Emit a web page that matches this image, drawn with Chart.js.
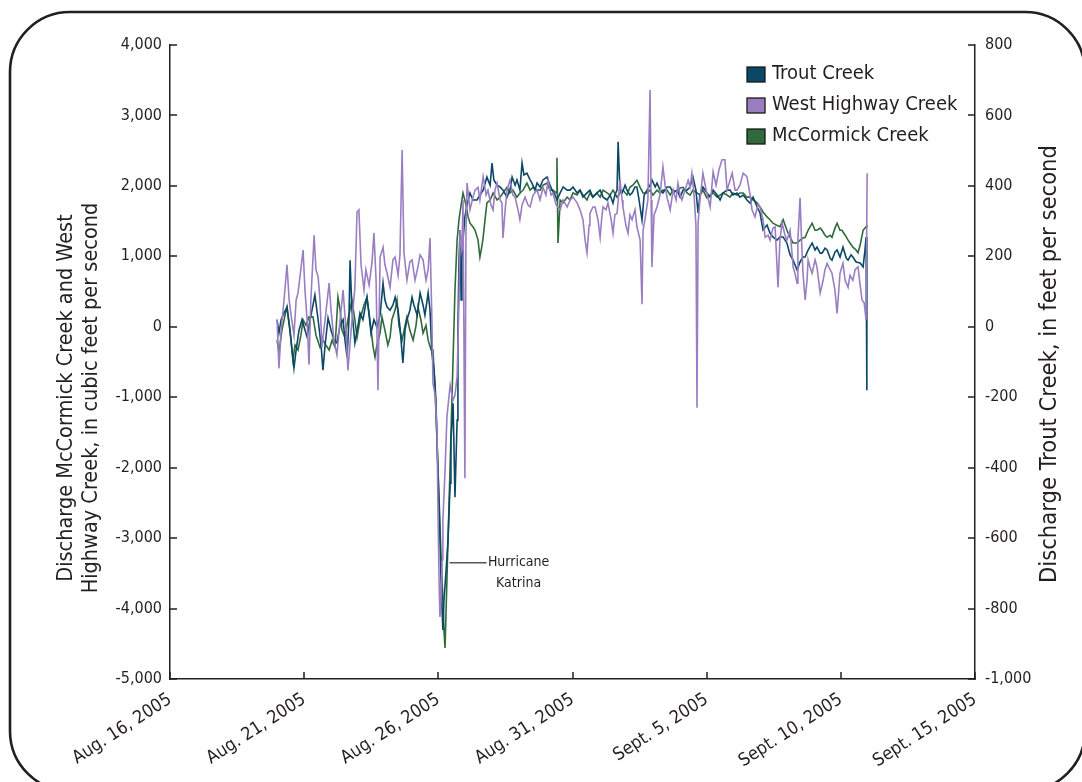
<!DOCTYPE html>
<html>
<head>
<meta charset="utf-8">
<script src="https://cdn.jsdelivr.net/npm/chart.js@4.4.0/dist/chart.umd.min.js"></script>
<style>
  html, body { margin: 0; padding: 0; background: #fff; overflow: hidden; }
  canvas { display: block; }
</style>
</head>
<body>
<canvas id="chart" width="1082" height="782"></canvas>
<script>
// Time is in days after Aug. 16, 2005 00:00.
const dateTickLabels = ['Aug. 16, 2005', 'Aug. 21, 2005', 'Aug. 26, 2005', 'Aug. 31, 2005',
                        'Sept. 5, 2005', 'Sept. 10, 2005', 'Sept. 15, 2005'];
const leftTicks  = [-5000, -4000, -3000, -2000, -1000, 0, 1000, 2000, 3000, 4000];
const rightTicks = [-1000, -800, -600, -400, -200, 0, 200, 400, 600, 800];

// Trout Creek discharge, feet per second (right axis): [day, value]
const troutCreek = [
  [3.99,20],[4.06,-18],[4.14,20],[4.25,39],[4.36,56],[4.47,-9],[4.55,-66],[4.62,-117],[4.70,-66],[4.81,-9],
  [4.92,20],[5.03,-9],[5.11,-29],[5.22,20],[5.33,62],[5.40,90],[5.52,20],[5.63,-52],[5.70,-123],[5.78,-52],
  [5.89,25],[6.00,-9],[6.11,-38],[6.22,-46],[6.34,5],[6.45,20],[6.52,-38],[6.60,-86],[6.67,20],[6.71,189],
  [6.78,47],[6.89,-46],[7.01,5],[7.08,39],[7.19,20],[7.34,84],[7.42,33],[7.49,-18],[7.60,20],[7.71,-1],
  [7.83,33],[7.94,124],[8.01,76],[8.09,56],[8.20,47],[8.31,62],[8.39,84],[8.50,47],[8.57,-1],[8.68,-103],
  [8.76,-9],[8.83,20],[8.94,47],[9.02,84],[9.09,62],[9.21,33],[9.32,96],[9.43,62],[9.50,33],[9.62,96],
  [9.69,47],[9.76,-75],[9.84,-123],[9.91,-208],[9.95,-322],[10.03,-521],[10.10,-719],[10.14,-805],[10.17,-861],[10.21,-776],
  [10.29,-691],[10.36,-606],[10.44,-444],[10.47,-322],[10.55,-217],[10.62,-484],[10.70,-265],[10.73,-9],[10.77,189],[10.81,275],
  [10.85,76],[10.88,189],[10.92,246],[10.99,312],[11.07,346],[11.18,380],[11.29,360],[11.44,360],[11.55,374],[11.67,388],
  [11.81,425],[11.93,402],[12.00,465],[12.07,417],[12.19,402],[12.30,397],[12.41,388],[12.56,368],[12.67,388],[12.75,425],
  [12.86,402],[12.93,417],[13.04,388],[13.12,465],[13.19,431],[13.30,436],[13.42,417],[13.49,408],[13.60,388],[13.68,408],
  [13.79,397],[13.90,417],[14.05,425],[14.16,402],[14.24,388],[14.35,374],[14.42,360],[14.54,380],[14.65,397],[14.80,388],
  [14.91,388],[15.02,397],[15.17,380],[15.28,388],[15.39,368],[15.54,380],[15.65,388],[15.76,368],[15.91,380],[16.03,388],
  [16.14,368],[16.29,360],[16.40,374],[16.51,351],[16.58,374],[16.66,388],[16.70,525],[16.77,388],[16.85,380],[16.96,402],
  [17.03,388],[17.14,374],[17.22,380],[17.33,397],[17.40,397],[17.48,360],[17.59,303],[17.67,374],[17.78,388],[17.89,402],
  [17.96,417],[18.08,397],[18.15,408],[18.26,388],[18.37,380],[18.52,397],[18.64,397],[18.75,380],[18.90,388],[19.01,368],
  [19.12,388],[19.27,388],[19.38,397],[19.49,425],[19.60,388],[19.68,323],[19.75,374],[19.86,397],[20.01,380],[20.13,368],
  [20.24,388],[20.39,374],[20.50,360],[20.61,380],[20.76,388],[20.87,388],[20.98,374],[21.13,380],[21.24,368],[21.36,374],
  [21.50,360],[21.62,351],[21.73,368],[21.88,340],[21.99,323],[22.10,275],[22.25,289],[22.36,266],[22.47,255],[22.62,246],
  [22.73,255],[22.85,255],[22.99,238],[23.11,204],[23.22,189],[23.37,161],[23.48,184],[23.59,198],[23.67,198],[23.78,218],
  [23.93,238],[24.04,218],[24.11,226],[24.23,209],[24.30,209],[24.41,223],[24.49,218],[24.60,195],[24.67,189],[24.78,212],
  [24.86,218],[24.97,198],[25.08,226],[25.20,195],[25.27,189],[25.38,204],[25.45,198],[25.57,184],[25.72,181],[25.83,170],
  [25.90,218],[25.94,255],[25.97,-180]
];

// West Highway Creek discharge, cubic feet per second (left axis): [day, value]
const westHighwayCreek = [
  [3.99,100],[4.06,-590],[4.14,-50],[4.25,380],[4.36,880],[4.44,380],[4.51,170],[4.62,-120],[4.70,380],[4.77,480],
  [4.85,730],[4.96,1090],[5.03,520],[5.11,100],[5.18,-540],[5.25,380],[5.37,1300],[5.44,810],[5.52,710],[5.59,380],
  [5.66,-290],[5.78,100],[5.93,620],[6.00,240],[6.11,-190],[6.22,-400],[6.34,100],[6.45,520],[6.56,-50],[6.63,-620],
  [6.75,-50],[6.89,560],[6.97,1630],[7.04,1660],[7.12,880],[7.23,520],[7.30,810],[7.42,590],[7.53,920],[7.60,1330],
  [7.68,660],[7.75,-900],[7.83,990],[7.94,1130],[8.01,880],[8.09,760],[8.20,560],[8.31,950],[8.39,990],[8.50,730],
  [8.57,1020],[8.65,2510],[8.72,1050],[8.83,660],[8.94,920],[9.02,950],[9.13,660],[9.24,850],[9.32,1020],[9.43,950],
  [9.54,660],[9.62,810],[9.69,1260],[9.76,100],[9.80,-800],[9.88,-970],[9.95,-1470],[9.99,-2700],[10.03,-3640],[10.06,-4120],
  [10.10,-3880],[10.14,-3310],[10.17,-2750],[10.25,-2040],[10.32,-1280],[10.44,-830],[10.55,-1040],[10.62,-970],[10.70,-710],[10.77,380],
  [10.81,1370],[10.88,1090],[10.92,1800],[10.99,-2150],[11.03,1370],[11.07,2040],[11.18,1660],[11.29,1840],[11.37,1940],[11.48,1980],
  [11.55,1800],[11.67,2130],[11.78,1870],[11.85,1940],[11.96,1730],[12.04,1660],[12.11,1940],[12.19,2040],[12.30,1800],[12.37,1760],
  [12.41,1260],[12.49,1660],[12.56,1940],[12.67,2080],[12.78,1870],[12.86,1840],[12.97,1660],[13.04,1520],[13.12,1730],[13.23,1840],
  [13.34,1730],[13.42,1700],[13.53,1870],[13.68,1940],[13.79,1800],[13.90,1980],[14.01,1870],[14.09,2080],[14.20,1870],[14.27,1900],
  [14.39,1730],[14.54,1660],[14.65,1800],[14.80,1700],[14.91,1800],[15.02,1840],[15.17,1760],[15.28,1660],[15.39,1520],[15.47,1230],
  [15.54,1050],[15.62,1440],[15.65,1610],[15.76,1700],[15.84,1700],[15.95,1520],[16.03,1270],[16.10,1590],[16.14,1700],[16.25,1660],
  [16.32,1760],[16.44,1520],[16.51,1330],[16.58,1590],[16.66,1610],[16.77,2080],[16.85,1800],[16.88,1700],[16.99,1440],[17.07,1330],
  [17.14,1590],[17.22,1520],[17.33,1660],[17.40,1420],[17.52,1230],[17.59,320],[17.63,1370],[17.70,1520],[17.81,1800],[17.89,3360],
  [17.93,1800],[17.96,850],[18.04,1590],[18.15,1700],[18.26,1870],[18.37,2270],[18.45,2010],[18.52,1840],[18.64,1660],[18.75,1940],
  [18.86,1800],[18.93,2040],[19.01,1870],[19.08,1800],[19.19,1940],[19.31,2080],[19.38,1980],[19.45,2180],[19.53,1870],[19.60,1440],
  [19.64,-1150],[19.68,1470],[19.75,1800],[19.86,2180],[19.98,1940],[20.13,1700],[20.24,2200],[20.35,2010],[20.46,2230],[20.57,2370],
  [20.68,2370],[20.76,1940],[20.87,2080],[20.95,2180],[21.06,1940],[21.13,1940],[21.24,2010],[21.36,2180],[21.50,2130],[21.62,1870],
  [21.69,1660],[21.80,1560],[21.91,1730],[21.99,1700],[22.10,1520],[22.18,1270],[22.29,1300],[22.36,1230],[22.47,1400],[22.55,1420],
  [22.66,560],[22.73,1230],[22.81,1470],[22.92,1300],[22.99,1230],[23.11,1370],[23.22,850],[23.29,760],[23.37,620],[23.40,1230],
  [23.48,1830],[23.55,1090],[23.59,760],[23.67,380],[23.74,660],[23.78,950],[23.85,850],[23.93,760],[24.04,950],[24.11,850],
  [24.23,480],[24.34,660],[24.41,810],[24.49,900],[24.60,810],[24.67,760],[24.78,520],[24.86,190],[24.97,760],[25.08,900],
  [25.16,660],[25.27,560],[25.34,730],[25.45,660],[25.53,810],[25.64,850],[25.72,590],[25.79,380],[25.87,340],[25.94,100],
  [25.98,2180]
];

// McCormick Creek discharge, cubic feet per second (left axis): [day, value]
const mcCormickCreek = [
  [3.99,-190],[4.06,-370],[4.17,-50],[4.29,170],[4.36,280],[4.47,-50],[4.58,-470],[4.66,-260],[4.77,-330],[4.88,-120],
  [4.96,100],[5.07,20],[5.18,140],[5.33,140],[5.44,-120],[5.59,-290],[5.70,-190],[5.81,-260],[5.93,-330],[6.04,-190],
  [6.15,-290],[6.26,420],[6.34,240],[6.41,-50],[6.52,-150],[6.63,100],[6.78,380],[6.89,100],[6.97,-150],[7.08,100],
  [7.23,310],[7.34,420],[7.45,100],[7.57,-290],[7.64,-430],[7.71,-260],[7.83,-90],[7.90,140],[8.01,-50],[8.12,-260],
  [8.20,-150],[8.27,100],[8.39,240],[8.46,380],[8.53,20],[8.65,-190],[8.76,20],[8.83,140],[8.94,-50],[9.06,-190],
  [9.17,20],[9.24,280],[9.35,100],[9.43,-90],[9.54,20],[9.62,-190],[9.73,-330],[9.80,-330],[9.88,-900],[9.95,-1610],
  [10.03,-2460],[10.10,-3240],[10.17,-3880],[10.21,-4310],[10.25,-4560],[10.62,520],[10.70,1230],[10.77,1520],[10.85,1730],[10.92,1900],
  [11.03,1730],[11.11,1560],[11.18,1470],[11.29,1420],[11.37,1370],[11.48,1230],[11.55,990],[11.63,1160],[11.67,1270],[11.74,1520],
  [11.81,1760],[11.93,1800],[12.04,1900],[12.19,1800],[12.30,1840],[12.41,1900],[12.56,1980],[12.67,1900],[12.78,1940],[12.93,1840],
  [13.04,1900],[13.16,1940],[13.30,2040],[13.42,1940],[13.53,1980],[13.68,1940],[13.79,1940],[13.90,2010],[14.05,2040],[14.16,1940],
  [14.27,1940],[14.39,1900],[14.42,2400],[14.46,1190],[14.54,1800],[14.65,1760],[14.80,1840],[14.91,1800],[15.02,1900],[15.17,1870],
  [15.28,1940],[15.39,1870],[15.54,1800],[15.65,1900],[15.76,1840],[15.91,1900],[16.03,1840],[16.14,1940],[16.29,1900],[16.40,1870],
  [16.51,1940],[16.66,1840],[16.77,1900],[16.88,1940],[17.03,1870],[17.14,1980],[17.25,2010],[17.40,2080],[17.52,1980],[17.63,1900],
  [17.78,1900],[17.89,1940],[18.00,1870],[18.15,1940],[18.26,1900],[18.37,1940],[18.52,1940],[18.64,1870],[18.75,1940],[18.90,1910],
  [19.01,1970],[19.12,1980],[19.27,1900],[19.38,1870],[19.49,1940],[19.64,1900],[19.75,1870],[19.86,1940],[20.01,1830],[20.13,1870],
  [20.24,1900],[20.39,1840],[20.50,1870],[20.61,1900],[20.76,1870],[20.87,1840],[20.98,1900],[21.13,1870],[21.24,1900],[21.36,1900],
  [21.50,1840],[21.62,1840],[21.73,1800],[21.88,1760],[21.99,1700],[22.10,1630],[22.25,1560],[22.36,1520],[22.47,1470],[22.62,1440],
  [22.73,1420],[22.85,1520],[22.99,1370],[23.11,1270],[23.22,1190],[23.37,1190],[23.48,1230],[23.59,1260],[23.67,1270],[23.78,1370],
  [23.93,1470],[24.04,1370],[24.11,1370],[24.23,1400],[24.30,1370],[24.41,1300],[24.49,1270],[24.60,1300],[24.67,1270],[24.78,1400],
  [24.86,1470],[24.97,1370],[25.04,1370],[25.16,1300],[25.27,1230],[25.34,1190],[25.45,1130],[25.57,1090],[25.64,1050],[25.72,1160],
  [25.83,1370],[25.94,1420],[25.97,1440]
];

// Storm note, placed in data units (day, left-axis discharge)
const stormNote = { lines: ['Hurricane', 'Katrina'], day: 10.42, flow: -3350 };

const FONT = "'DejaVu Sans Condensed', 'DejaVu Sans', sans-serif";
const INK = '#231f20';
const COLORS = { trout: '#0b4767', west: '#9a7ec2', mccormick: '#2f6a3b' };

const toPoints = pairs => pairs.map(([x, y]) => ({ x, y }));
const withCommas = v => (v < 0 ? '-' : '') + String(Math.abs(v)).replace(/\B(?=(\d{3})+(?!\d))/g, ',');

Chart.defaults.font.family = FONT;
Chart.defaults.color = INK;

const decorations = {
  id: 'decorations',
  beforeDraw(chart) {
    const ctx = chart.ctx;
    ctx.save();
    ctx.fillStyle = '#fff';
    ctx.fillRect(0, 0, chart.width, chart.height);
    ctx.restore();
  },
  afterDraw(chart) {
    const { ctx, chartArea: ca, scales } = chart;
    ctx.save();

    // inward tick marks
    ctx.strokeStyle = INK;
    ctx.lineWidth = 1.5;
    ctx.beginPath();
    leftTicks.forEach(v => {
      const y = Math.round(scales.yL.getPixelForValue(v));
      ctx.moveTo(ca.left, y); ctx.lineTo(ca.left + 7, y);
    });
    rightTicks.forEach(v => {
      const y = Math.round(scales.yR.getPixelForValue(v));
      ctx.moveTo(ca.right, y); ctx.lineTo(ca.right - 7, y);
    });
    dateTickLabels.forEach((_, i) => {
      const x = Math.round(scales.x.getPixelForValue(i * 5));
      ctx.moveTo(x, ca.bottom); ctx.lineTo(x, ca.bottom - 7);
    });
    ctx.stroke();

    // rounded frame
    ctx.lineWidth = 2.6;
    ctx.beginPath();
    ctx.roundRect(10, 12, 1075, 779, 60);
    ctx.stroke();

    // axis titles
    ctx.fillStyle = INK;
    ctx.font = '21.5px ' + FONT;
    ctx.textAlign = 'center';
    ctx.textBaseline = 'middle';
    ctx.save();
    ctx.translate(66, 398);
    ctx.rotate(-Math.PI / 2);
    ctx.fillText('Discharge McCormick Creek and West', 0, 0);
    ctx.fillText('Highway Creek, in cubic feet per second', 0, 25);
    ctx.restore();
    ctx.font = '23.5px ' + FONT;
    ctx.save();
    ctx.translate(1050, 364);
    ctx.rotate(-Math.PI / 2);
    ctx.fillText('Discharge Trout Creek, in feet per second', 0, 0);
    ctx.restore();

    // legend
    ctx.font = '20px ' + FONT;
    ctx.textAlign = 'left';
    chart.data.datasets.forEach((ds, i) => {
      const cy = ca.top + 29 + i * 31;
      ctx.fillStyle = ds.borderColor;
      ctx.fillRect(747, cy - 7, 18, 15);
      ctx.strokeStyle = '#1a1a1a';
      ctx.lineWidth = 1.3;
      ctx.strokeRect(747, cy - 7, 18, 15);
      ctx.fillStyle = INK;
      ctx.fillText(ds.label, 772, cy);
    });

    // storm note with leader line
    const nx = scales.x.getPixelForValue(stormNote.day);
    const ny = scales.yL.getPixelForValue(stormNote.flow);
    ctx.strokeStyle = '#555';
    ctx.lineWidth = 1.3;
    ctx.beginPath();
    ctx.moveTo(nx, ny); ctx.lineTo(nx + 37, ny);
    ctx.stroke();
    ctx.fillStyle = INK;
    ctx.font = '14px ' + FONT;
    ctx.textAlign = 'center';
    ctx.fillText(stormNote.lines[0], nx + 69, ny);
    ctx.fillText(stormNote.lines[1], nx + 69, ny + 21);

    ctx.restore();
  }
};

new Chart(document.getElementById('chart'), {
  type: 'line',
  data: {
    datasets: [
      { label: 'Trout Creek', data: toPoints(troutCreek), yAxisID: 'yR',
        borderColor: COLORS.trout, backgroundColor: COLORS.trout, order: 1 },
      { label: 'West Highway Creek', data: toPoints(westHighwayCreek), yAxisID: 'yL',
        borderColor: COLORS.west, backgroundColor: COLORS.west, order: 0 },
      { label: 'McCormick Creek', data: toPoints(mcCormickCreek), yAxisID: 'yL',
        borderColor: COLORS.mccormick, backgroundColor: COLORS.mccormick, order: 2 }
    ]
  },
  options: {
    responsive: false,
    animation: false,
    devicePixelRatio: 1,
    layout: { padding: { top: 45, left: 0, right: 0, bottom: 0 } },
    elements: {
      line: { borderWidth: 1.6, tension: 0, fill: false },
      point: { radius: 0, hoverRadius: 0 }
    },
    plugins: { legend: { display: false }, tooltip: { enabled: false } },
    scales: {
      x: {
        type: 'linear', position: 'bottom', min: 0, max: 30,
        afterFit: s => { s.height = 103; },
        afterBuildTicks: s => { s.ticks = dateTickLabels.map((_, i) => ({ value: i * 5 })); },
        ticks: {
          autoSkip: false, minRotation: 33, maxRotation: 33, padding: 10,
          font: { size: 18 }, color: INK,
          callback: v => dateTickLabels[Math.round(v / 5)]
        },
        grid: { display: false, drawTicks: false },
        border: { display: true, color: INK, width: 1.5 }
      },
      yL: {
        type: 'linear', position: 'left', min: -5000, max: 4000,
        afterFit: s => { s.width = 170; },
        afterBuildTicks: s => { s.ticks = leftTicks.map(v => ({ value: v })); },
        ticks: { padding: 8, font: { size: 16 }, color: INK, callback: v => withCommas(v) },
        grid: { display: false, drawTicks: false },
        border: { display: true, color: INK, width: 1.5 }
      },
      yR: {
        type: 'linear', position: 'right', min: -1000, max: 800,
        afterFit: s => { s.width = 107; },
        afterBuildTicks: s => { s.ticks = rightTicks.map(v => ({ value: v })); },
        ticks: { padding: 10, font: { size: 16 }, color: INK, callback: v => withCommas(v) },
        grid: { display: false, drawTicks: false },
        border: { display: true, color: INK, width: 1.5 }
      }
    }
  },
  plugins: [decorations]
});
</script>
</body>
</html>
